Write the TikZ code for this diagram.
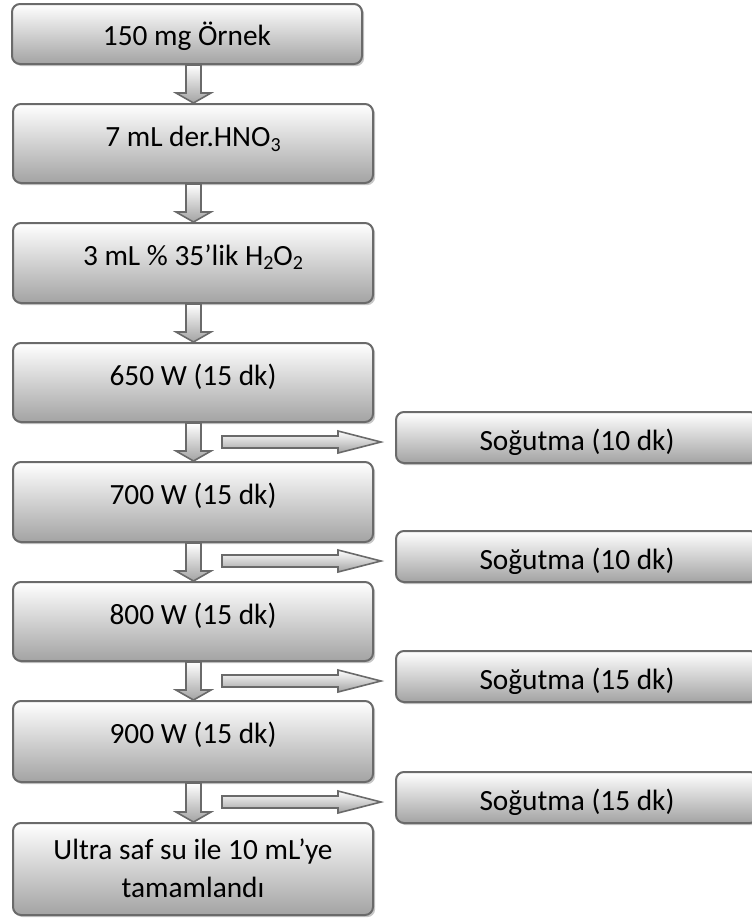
\documentclass[tikz,border=0pt]{standalone}
\usepackage{fontspec}
\setmainfont{Carlito}
\usetikzlibrary{calc,shadows}
\definecolor{boxline}{HTML}{6A6A6A}
\definecolor{boxbot}{HTML}{A3A3A3}
\newcommand\subs[1]{\raisebox{-3.5pt}{\fontsize{15}{15}\selectfont #1}}
\tikzset{
  flowbox/.style={draw=boxline, line width=1.5pt, rounded corners=6pt,
    top color=white, bottom color=boxbot, inner sep=0pt,
    drop shadow={shadow xshift=1.6pt, shadow yshift=-1.6pt, fill=black!22, opacity=1}},
  mainbox/.style={flowbox, minimum width=270pt},
  coolbox/.style={flowbox, minimum width=271.5pt, minimum height=38.25pt},
  boxtext/.style={font=\fontsize{22}{28.5}\selectfont, anchor=base, inner sep=0pt, align=center},
  blockarrow/.style={draw=boxline, line width=1.2pt, top color=white, bottom color=boxbot, line join=miter},
}
\newcommand\downblock[2]{%
  \draw[blockarrow] ($(#1.south -| ax)+(-7.5,0)$) -- ($(#2.north -| ax)+(-7.5,-10)$)
    -- ($(#2.north -| ax)+(-17.5,-10)$) -- (#2.north -| ax)
    -- ($(#2.north -| ax)+(17.5,-10)$) -- ($(#2.north -| ax)+(7.5,-10)$)
    -- ($(#1.south -| ax)+(7.5,0)$) -- cycle;}
\newcommand\sideblock[1]{%
  \coordinate (tip#1) at ($(#1.west)+(-14,4.5)$);
  \draw[blockarrow] ($(tip#1)+(-159,-6)$) -- ($(tip#1)+(-43,-6)$) -- ($(tip#1)+(-43,-11)$)
    -- (tip#1) -- ($(tip#1)+(-43,11)$) -- ($(tip#1)+(-43,6)$) -- ($(tip#1)+(-159,6)$) -- cycle;}
\newcommand\cooltxt[2]{%
  \begin{scope}
    \clip ($(#1.north west)+(0,-2)$) rectangle ($(#1.south east)+(0,-10)$);
    \node[boxtext] (t#1) at ($(#1.north)+(0,39.5)$) {#2};
  \end{scope}}
\begin{document}
\begin{tikzpicture}[x=0.75pt,y=-0.75pt]
\useasboundingbox (0,0) rectangle (752,918);
\coordinate (ax) at (193.5,0);
% main column
\node[flowbox, minimum width=262.5pt, minimum height=45pt] (b1) at (187,34) {};
\node[mainbox, minimum height=59.25pt] (b2) at (193,143.5) {};
\node[mainbox, minimum height=60pt] (b3) at (193,263) {};
\node[mainbox, minimum height=59.25pt] (b4) at (193,382.5) {};
\node[mainbox, minimum height=60pt] (b5) at (193,502) {};
\node[mainbox, minimum height=59.25pt] (b6) at (193,621.5) {};
\node[mainbox, minimum height=60.75pt] (b7) at (193,741.5) {};
\node[mainbox, minimum height=69pt] (b8) at (193,869) {};
\node[boxtext] (b1t) at ($(b1.north)+(0,42)$) {150 mg Örnek};
\node[boxtext] (b2t) at ($(b2.north)+(0,43.5)$) {7 mL der.HNO\subs{3}};
\node[boxtext] (b3t) at ($(b3.north)+(0,43)$) {3 mL \% 35’lik H\subs{2}O\subs{2}};
\node[boxtext] (b4t) at ($(b4.north)+(0,43)$) {650 W (15 dk)};
\node[boxtext] (b5t) at ($(b5.north)+(0,43)$) {700 W (15 dk)};
\node[boxtext] (b6t) at ($(b6.north)+(0,43)$) {800 W (15 dk)};
\node[boxtext] (b7t) at ($(b7.north)+(0,43)$) {900 W (15 dk)};
\node[boxtext] (b8t) at ($(b8.north)+(0,75)$) {Ultra saf su ile 10 mL’ye\\tamamlandı};
% cooling boxes
\node[coolbox] (s1) at (577,437.5) {};
\node[coolbox] (s2) at (577,556.5) {};
\node[coolbox] (s3) at (577,676.5) {};
\node[coolbox] (s4) at (577,797.5) {};
\cooltxt{s1}{Soğutma (10 dk)}
\cooltxt{s2}{Soğutma (10 dk)}
\cooltxt{s3}{Soğutma (15 dk)}
\cooltxt{s4}{Soğutma (15 dk)}
% arrows
\downblock{b1}{b2}
\downblock{b2}{b3}
\downblock{b3}{b4}
\downblock{b4}{b5}
\downblock{b5}{b6}
\downblock{b6}{b7}
\downblock{b7}{b8}
\sideblock{s1}
\sideblock{s2}
\sideblock{s3}
\sideblock{s4}
\end{tikzpicture}
\end{document}
